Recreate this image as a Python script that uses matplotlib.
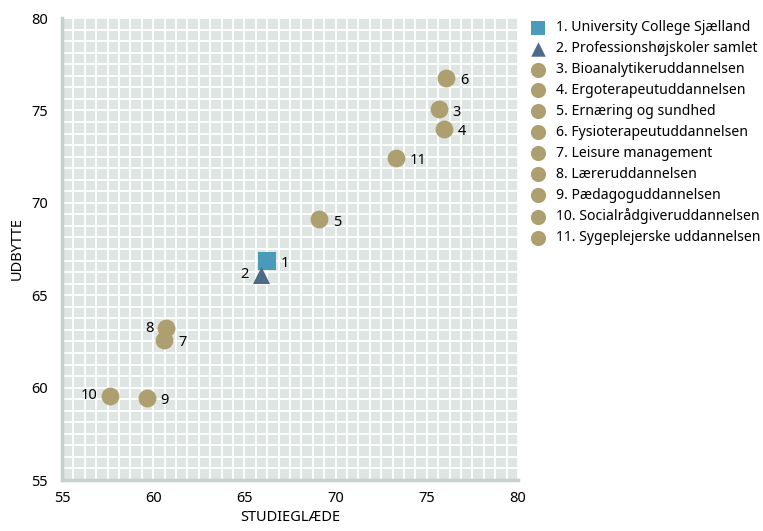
import matplotlib.pyplot as plt
import matplotlib as mpl
import matplotlib.ticker as mticker

# data
labels = [
    '1. University College Sjælland',
    '2. Professionshøjskoler samlet',
    '3. Bioanalytikeruddannelsen',
    '4. Ergoterapeutuddannelsen',
    '5. Ernæring og sundhed',
    '6. Fysioterapeutuddannelsen',
    '7. Leisure management',
    '8. Læreruddannelsen',
    '9. Pædagoguddannelsen',
    '10. Socialrådgiveruddannelsen',
    '11. Sygeplejerske uddannelsen',
]
studieglaede = [66.25, 65.9, 75.65, 75.95, 69.1, 76.05, 60.6, 60.7, 59.65, 57.65, 73.3]
udbytte = [66.85, 66.1, 75.05, 74.0, 69.1, 76.75, 62.6, 63.2, 59.45, 59.55, 72.45]
point_ids = ['1', '2', '3', '4', '5', '6', '7', '8', '9', '10', '11']
label_side = ['r', 'l', 'r', 'r', 'r', 'r', 'r', 'l', 'r', 'l', 'r']

col_ucs = '#4a9bb9'
col_phs = '#4c6b8b'
col_edu = '#ad9f70'


def main():
    mpl.rcParams['font.family'] = ['Noto Sans', 'DejaVu Sans']
    mpl.rcParams['font.size'] = 10.5

    fig = plt.figure(figsize=(7.63, 5.31), dpi=100)
    ax = fig.add_axes([62/763, 1-480/531, 456/763, 462/531])
    ax.set_facecolor('#dfe5e2')

    handles = []
    for i, lab in enumerate(labels):
        if i == 0:
            kw = dict(marker='s', s=150, color=col_ucs)
        elif i == 1:
            kw = dict(marker='^', s=150, color=col_phs)
        else:
            kw = dict(marker='o', s=165, color=col_edu)
        h = ax.scatter(studieglaede[i], udbytte[i], label=lab, zorder=3, linewidths=0, **kw)
        handles.append(h)
        if label_side[i] == 'r':
            ax.annotate(point_ids[i], (studieglaede[i], udbytte[i]), xytext=(10, -2),
                        textcoords='offset points', ha='left', va='center')
        else:
            ax.annotate(point_ids[i], (studieglaede[i], udbytte[i]), xytext=(-9, 0),
                        textcoords='offset points', ha='right', va='center')

    ax.set_xlim(55, 80)
    ax.set_ylim(55, 80)
    ax.xaxis.set_major_locator(mticker.MultipleLocator(5))
    ax.yaxis.set_major_locator(mticker.MultipleLocator(5))
    ax.xaxis.set_minor_locator(mticker.MultipleLocator(0.625))
    ax.yaxis.set_minor_locator(mticker.MultipleLocator(0.625))
    ax.grid(which='both', color='white', lw=1.3)
    ax.set_axisbelow(True)
    ax.tick_params(which='both', length=0)
    ax.tick_params(axis='x', pad=8)
    ax.tick_params(axis='y', pad=10)

    for s in ['top', 'right']:
        ax.spines[s].set_visible(False)
    for s in ['left', 'bottom']:
        ax.spines[s].set_color('#c6d1c9')
        ax.spines[s].set_linewidth(2.5)

    ax.set_xlabel('STUDIEGLÆDE', labelpad=3)
    ax.set_ylabel('UDBYTTE', labelpad=5)

    fig.legend(handles=handles, loc='upper left', bbox_to_anchor=(0.68, 0.972),
               frameon=False, handletextpad=0.25, labelspacing=0.42,
               borderaxespad=0, markerscale=0.85, fontsize=10.1)

    fig.savefig('out.png', dpi=100)


main()
